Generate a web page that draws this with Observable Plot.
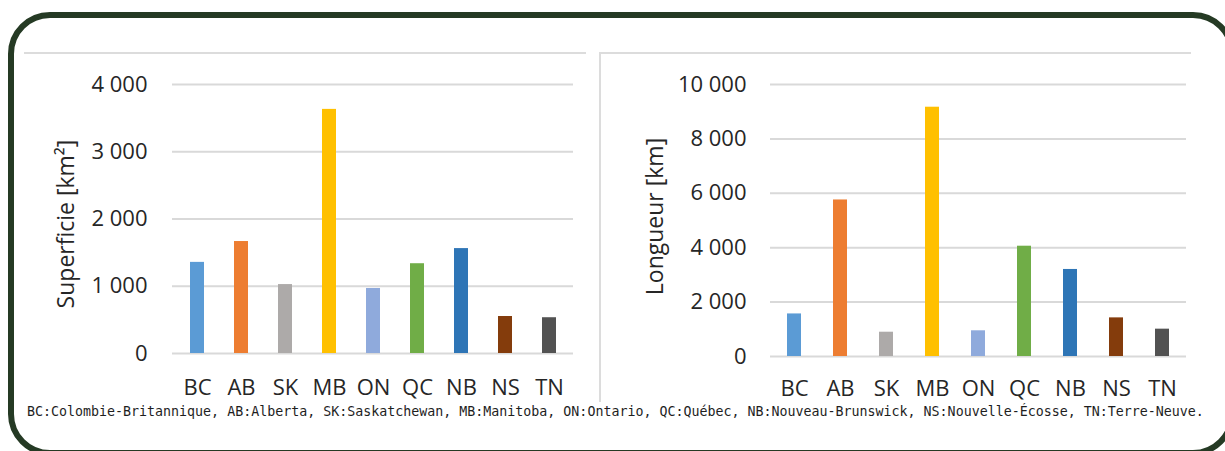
<!DOCTYPE html>
<html>
<head>
<meta charset="utf-8">
<script src="https://cdn.jsdelivr.net/npm/d3@7"></script>
<script src="https://cdn.jsdelivr.net/npm/@observablehq/plot@0.6"></script>
<style>
  html, body { margin: 0; padding: 0; background: #fff; }
  body { width: 1225px; height: 451px; overflow: hidden; position: relative; }
  #border { position: absolute; left: 8px; top: 12px; width: 1227px; height: 444px;
            border: 6px solid #253a24; border-radius: 42px; box-sizing: border-box; }
  .hline { position: absolute; height: 2px; background: #dcdcdc; }
  .vline { position: absolute; width: 2px; background: #dcdcdc; }
  #left { position: absolute; left: 0; top: 0; }
  #right { position: absolute; left: 600px; top: 0; }
  #caption { position: absolute; left: 27px; top: 404px; font-family: "DejaVu Sans Mono", monospace;
             font-size: 13.3px; line-height: 16px; color: #1e1e1e; white-space: nowrap; }
</style>
</head>
<body>
<div id="border"></div>
<div class="hline" style="left:24px; top:52px; width:562px;"></div>
<div class="hline" style="left:600px; top:52px; width:591px;"></div>
<div class="vline" style="left:599px; top:52px; height:350px;"></div>
<div id="left"></div>
<div id="right"></div>
<div id="caption"></div>
<script>
const provinces = ["BC", "AB", "SK", "MB", "ON", "QC", "NB", "NS", "TN"];
const superficie = [1355, 1665, 1025, 3630, 967, 1335, 1560, 550, 532];
const longueur = [1565, 5755, 893, 9165, 945, 4055, 3200, 1420, 1005];
const colors = ["#5b9bd5", "#ed7d31", "#adaaa9", "#ffc000", "#8faadc", "#70ad47", "#2e75b6", "#843c0c", "#525252"];
const superficieTicks = [0, 1000, 2000, 3000, 4000];
const longueurTicks = [0, 2000, 4000, 6000, 8000, 10000];
const captionText = "BC:Colombie-Britannique, AB:Alberta, SK:Saskatchewan, MB:Manitoba, ON:Ontario, QC:Québec, NB:Nouveau-Brunswick, NS:Nouvelle-Écosse, TN:Terre-Neuve.";

const fmt = d3.formatLocale({thousands: " ", grouping: [3], decimal: ","}).format(",");
const font = "'Open Sans', 'Noto Sans', sans-serif";
const ink = "#262626";

function chart({values, ticks, label, width, height, mL, mR, mT, mB, yPad, xPad, pad, ldx, ldy}) {
  const data = provinces.map((p, i) => ({p, v: values[i], c: colors[i]}));
  return Plot.plot({
    width, height,
    marginLeft: mL, marginRight: mR, marginTop: mT, marginBottom: mB,
    style: {fontFamily: font, fontSize: "22px", color: ink, background: "transparent"},
    x: {domain: provinces, paddingInner: pad, paddingOuter: pad / 2, axis: null},
    y: {domain: [0, ticks[ticks.length - 1]], axis: null},
    marks: [
      Plot.ruleY(ticks, {stroke: "#d9d9d9", strokeWidth: 2}),
      Plot.barY(data, {x: "p", y: "v", fill: "c"}),
      Plot.axisY({ticks, tickSize: 0, tickPadding: yPad, tickFormat: fmt, fontSize: 22, fill: ink, label: null}),
      Plot.axisX({tickSize: 0, tickPadding: xPad, fontSize: 22, fill: ink, label: null}),
      Plot.text([label], {frameAnchor: "left", textAnchor: "middle", dx: ldx, dy: ldy, rotate: -90, fontSize: 23, fill: ink, text: d => d})
    ]
  });
}

document.getElementById("left").append(chart({
  values: superficie, ticks: superficieTicks, label: "Superficie [km²]",
  width: 600, height: 403, mL: 172, mR: 27, mT: 84, mB: 50, yPad: 25, xPad: 26, pad: 0.69, ldx: -106, ldy: 5
}));
document.getElementById("right").append(chart({
  values: longueur, ticks: longueurTicks, label: "Longueur [km]",
  width: 625, height: 406, mL: 170, mR: 39, mT: 84, mB: 50, yPad: 24, xPad: 24, pad: 0.69, ldx: -115, ldy: -4
}));
document.getElementById("caption").textContent = captionText;
</script>
</body>
</html>
